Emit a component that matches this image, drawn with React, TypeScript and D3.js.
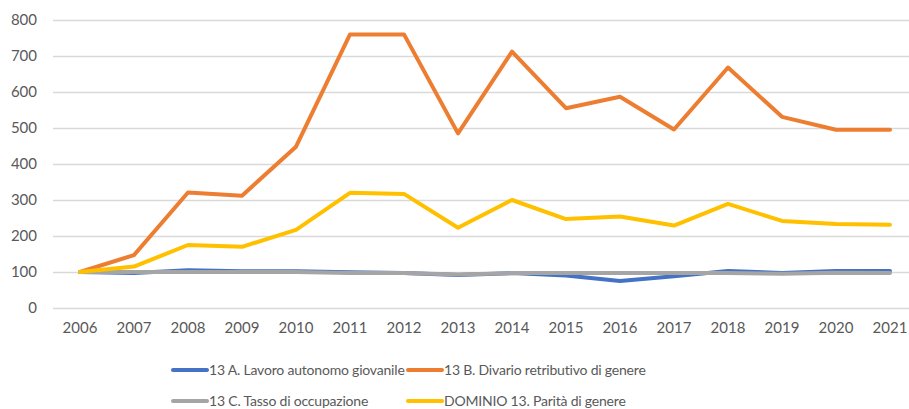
import { useRef, useEffect } from "react";
import { select, scaleBand, scaleLinear, line, axisLeft, axisBottom } from "d3";

const years = [
  "2006", "2007", "2008", "2009", "2010", "2011", "2012", "2013",
  "2014", "2015", "2016", "2017", "2018", "2019", "2020", "2021",
];
const lavoroAutonomo = [100, 97, 105, 102, 102, 99, 97, 92, 97, 90, 75, 88, 103, 97, 103, 103];
const divarioRetributivo = [100, 147, 321, 312, 448, 760, 760, 485, 712, 555, 587, 496, 668, 531, 495, 495];
const tassoOccupazione = [100, 100, 100, 100, 100, 97, 97, 93, 97, 97, 97, 97, 97, 95, 98, 97];
const dominio = [100, 115, 175, 170, 217, 320, 317, 223, 300, 247, 254, 229, 289, 242, 233, 231];
const yTicks = [0, 100, 200, 300, 400, 500, 600, 700, 800];

const series = [
  { name: "13 A. Lavoro autonomo giovanile", values: lavoroAutonomo, color: "#4472C4" },
  { name: "13 B. Divario retributivo di genere", values: divarioRetributivo, color: "#ED7D31" },
  { name: "13 C. Tasso di occupazione", values: tassoOccupazione, color: "#A5A5A5" },
  { name: "DOMINIO 13. Parità di genere", values: dominio, color: "#FFC000" },
];

const W = 909;
const H = 409;
const FONT = "Lato, 'Open Sans', sans-serif";

export default function App() {
  const ref = useRef<SVGSVGElement>(null);

  useEffect(() => {
    if (!ref.current) return;
    const svg = select(ref.current);
    svg.selectAll("*").remove();

    const x = scaleBand<string>().domain(years).range([53, 53 + 54 * 16]);
    const y = scaleLinear().domain([0, 800]).range([308, 20]);

    // griglia + asse y
    const gy = svg
      .append("g")
      .attr("transform", "translate(53,0)")
      .call(
        axisLeft(y)
          .tickValues(yTicks)
          .tickSize(-(W - 53))
          .tickPadding(16)
      );
    gy.select(".domain").remove();
    gy.selectAll(".tick line").attr("stroke", "#D9D9D9").attr("stroke-width", 1.3);
    gy.selectAll(".tick text")
      .attr("fill", "#595959")
      .style("font-family", FONT)
      .style("font-size", "15px");

    // asse x
    const gx = svg
      .append("g")
      .attr("transform", "translate(0,308)")
      .call(axisBottom(x).tickSize(0).tickPadding(14));
    gx.select(".domain").remove();
    gx.selectAll(".tick text")
      .attr("fill", "#595959")
      .style("font-family", FONT)
      .style("font-size", "15px");

    const lineGen = line<number>()
      .x((_d, i) => (x(years[i]) ?? 0) + x.bandwidth() / 2)
      .y((d) => y(d));

    series.forEach((s) => {
      svg
        .append("path")
        .datum(s.values)
        .attr("fill", "none")
        .attr("stroke", s.color)
        .attr("stroke-width", 4)
        .attr("stroke-linejoin", "round")
        .attr("stroke-linecap", "round")
        .attr("d", lineGen);
    });

    // legenda
    const legendPos = [
      [173, 370],
      [408, 370],
      [173, 401],
      [408, 401],
    ];
    series.forEach((s, i) => {
      const [lx, ly] = legendPos[i];
      const g = svg.append("g").attr("transform", `translate(${lx},${ly})`);
      g.append("line")
        .attr("x1", 0)
        .attr("x2", 34)
        .attr("y1", 0)
        .attr("y2", 0)
        .attr("stroke", s.color)
        .attr("stroke-width", 4)
        .attr("stroke-linecap", "round");
      g.append("text")
        .attr("x", 36)
        .attr("y", 0)
        .attr("dy", "0.35em")
        .attr("fill", "#595959")
        .style("font-family", FONT)
        .style("font-size", "14px")
        .style("letter-spacing", "-0.2px")
        .text(s.name);
    });
  }, []);

  return (
    <svg
      ref={ref}
      width={W}
      height={H}
      style={{ position: "absolute", left: 0, top: 0, background: "#fff" }}
    />
  );
}
